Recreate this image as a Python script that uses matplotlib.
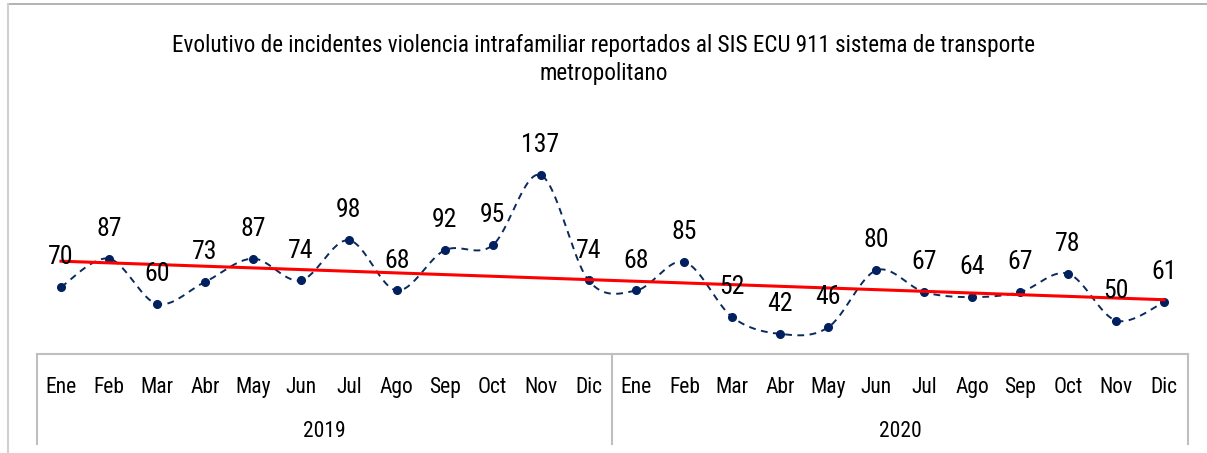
import numpy as np
import matplotlib
matplotlib.use("Agg")
import matplotlib.pyplot as plt
from matplotlib import font_manager
from matplotlib.lines import Line2D

# --- data ---
months = ["Ene", "Feb", "Mar", "Abr", "May", "Jun", "Jul", "Ago", "Sep", "Oct", "Nov", "Dic"]
years = ["2019", "2020"]
values_2019 = [70, 87, 60, 73, 87, 74, 98, 68, 92, 95, 137, 74]
values_2020 = [68, 85, 52, 42, 46, 80, 67, 64, 67, 78, 50, 61]
title = "Evolutivo de incidentes violencia intrafamiliar reportados al SIS ECU 911 sistema de transporte\nmetropolitano"

# pick a narrow font if one is there
names = {f.name for f in font_manager.fontManager.ttflist}
family = "Roboto"
for cand in ["Roboto Condensed", "Liberation Sans Narrow"]:
    if cand in names:
        family = cand
        break
plt.rcParams["font.family"] = [family, "DejaVu Sans"]

values = np.array(values_2019 + values_2020, dtype=float)
x = np.arange(len(values), dtype=float)


def smooth_curve(xs, ys, n=30):
    """Excel-like smoothed line (Catmull-Rom as cubic Bezier)."""
    px = np.concatenate([[xs[0]], xs, [xs[-1]]])
    py = np.concatenate([[ys[0]], ys, [ys[-1]]])
    out_x, out_y = [], []
    t = np.linspace(0, 1, n)
    for i in range(1, len(px) - 2):
        p0 = np.array([px[i], py[i]])
        p3 = np.array([px[i + 1], py[i + 1]])
        p1 = p0 + (np.array([px[i + 1], py[i + 1]]) - np.array([px[i - 1], py[i - 1]])) / 6
        p2 = p3 - (np.array([px[i + 2], py[i + 2]]) - np.array([px[i], py[i]])) / 6
        b = ((1 - t) ** 3)[:, None] * p0 + (3 * (1 - t) ** 2 * t)[:, None] * p1 \
            + (3 * (1 - t) * t ** 2)[:, None] * p2 + (t ** 3)[:, None] * p3
        out_x.extend(b[:, 0])
        out_y.extend(b[:, 1])
    return np.array(out_x), np.array(out_y)


W, H = 1207, 453
fig = plt.figure(figsize=(W / 100, H / 100), dpi=100)
ax = fig.add_axes([37 / W, (H - 354) / H, 1151 / W, (354 - 136.5) / H])

navy = "#0b2a5c"
sx, sy = smooth_curve(x, values)
ax.plot(sx, sy, color=navy, lw=1.4, ls=(0, (3.5, 2.8)), zorder=3)
ax.plot(x, values, "o", color="#002060", ms=5.5, zorder=4)

# linear trend
slope, intercept = np.polyfit(x, values, 1)
ax.plot([x[0], x[-1]], [slope * x[0] + intercept, slope * x[-1] + intercept],
        color="#ff0000", lw=2.2, zorder=5)

for xi, v in zip(x, values):
    ax.annotate(f"{int(v)}", (xi, v), xytext=(0, 21.5), textcoords="offset points",
                ha="center", va="center", fontsize=18.5, color="black", zorder=6)

ax.set_xlim(-0.5, len(values) - 0.5)
ax.set_ylim(30, 160)
ax.axis("off")

# category axis (months / years) with separators
grey = "#bfbfbf"
trans = ax.get_xaxis_transform()
ax.plot([-0.5, len(values) - 0.5], [0, 0], color=grey, lw=1.5, transform=trans, clip_on=False)
for xs_ in [-0.5, 11.5, 23.5]:
    ax.plot([xs_, xs_], [0, -0.414], color=grey, lw=1.5, transform=trans, clip_on=False)
for i, m in enumerate(months * 2):
    ax.text(i, -0.152, m, transform=trans, ha="center", va="center", fontsize=15.5, color="black")
for j, yr in enumerate(years):
    ax.text(5.5 + 12 * j, -0.358, yr, transform=trans, ha="center", va="center", fontsize=15.5, color="black")

fig.text(0.5, (H - 59.5) / H, title, ha="center", va="center", fontsize=16.7,
         linespacing=1.28, color="black")

# chart area border
fig.add_artist(Line2D([8 / W, 1], [(H - 4) / H, (H - 4) / H], color="#a6a6a6", lw=1.2))
fig.add_artist(Line2D([8 / W, 8 / W], [0, (H - 4) / H], color="#d0d0d0", lw=1.5))

fig.savefig("out.png", dpi=100)
